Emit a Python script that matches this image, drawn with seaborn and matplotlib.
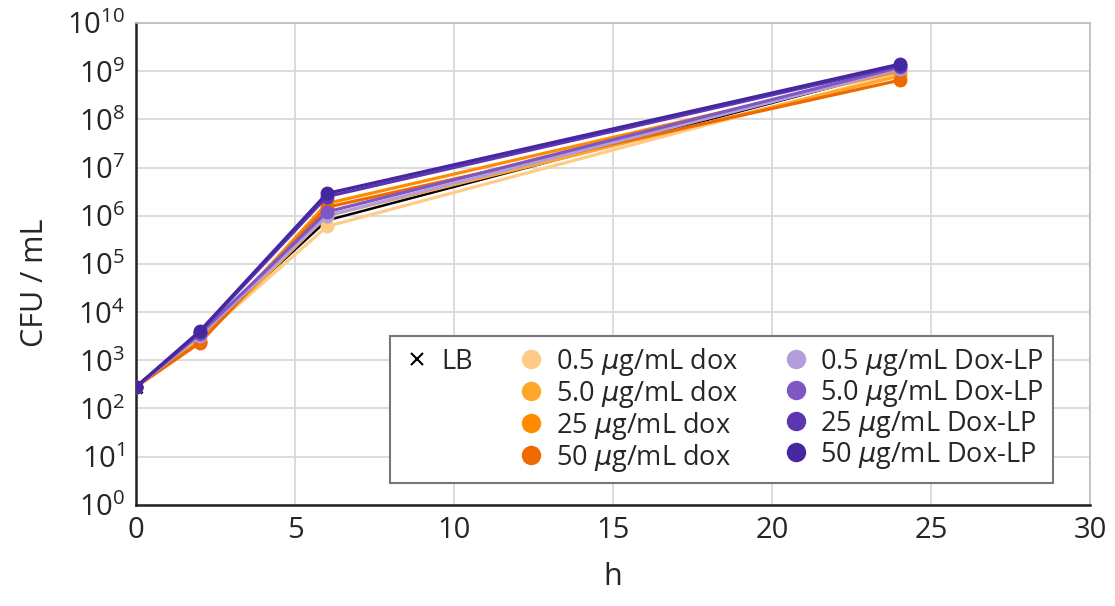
import matplotlib
matplotlib.use("Agg")
import matplotlib.pyplot as plt
from matplotlib.lines import Line2D
import seaborn as sns

# time points (h)
hours = [0, 2, 6, 24]

# CFU / mL readings per condition
lb = [280, 3100, 8.0e5, 1.1e9]
dox_05 = [280, 2800, 6.0e5, 9.0e8]
dox_5 = [280, 2500, 1.0e6, 8.0e8]
dox_25 = [280, 2400, 1.8e6, 1.0e9]
dox_50 = [280, 2300, 1.5e6, 6.5e8]
lp_05 = [280, 3200, 1.0e6, 1.1e9]
lp_5 = [280, 3500, 1.2e6, 1.2e9]
lp_25 = [280, 3800, 2.5e6, 1.3e9]
lp_50 = [280, 4000, 2.9e6, 1.4e9]

dox_labels = ["0.5 $\\mu$g/mL dox", "5.0 $\\mu$g/mL dox",
              "25 $\\mu$g/mL dox", "50 $\\mu$g/mL dox"]
lp_labels = ["0.5 $\\mu$g/mL Dox-LP", "5.0 $\\mu$g/mL Dox-LP",
             "25 $\\mu$g/mL Dox-LP", "50 $\\mu$g/mL Dox-LP"]
dox_colors = ["#FFCC88", "#FFA62B", "#FF8C00", "#EE6A00"]
lp_colors = ["#B39DDB", "#7E57C2", "#5E35B1", "#4527A0"]

sns.set_style("white")
plt.rcParams["font.family"] = ["Open Sans", "DejaVu Sans"]
plt.rcParams["mathtext.fontset"] = "custom"
plt.rcParams["mathtext.rm"] = "Open Sans"
plt.rcParams["mathtext.it"] = "DejaVu Sans:italic"

fig = plt.figure(figsize=(11.15, 6.06), dpi=100)
ax = fig.add_axes([0.122, 0.167, 0.856, 0.795])

# LB underneath the coloured markers
ax.plot(hours, lb, color="black", lw=1.8, marker="x", markersize=9,
        markeredgewidth=2, zorder=1)

handles = []
for vals, lab, col in zip([dox_05, dox_5, dox_25, dox_50], dox_labels, dox_colors):
    sns.lineplot(x=hours, y=vals, ax=ax, color=col, lw=2.3, marker="o",
                 markersize=10, markeredgewidth=0, zorder=2)
    handles.append(Line2D([], [], ls="none", marker="o", ms=14, mew=0,
                          color=col, label=lab))
lp_handles = []
for vals, lab, col in zip([lp_05, lp_5, lp_25, lp_50], lp_labels, lp_colors):
    sns.lineplot(x=hours, y=vals, ax=ax, color=col, lw=2.3, marker="o",
                 markersize=10, markeredgewidth=0, zorder=3)
    lp_handles.append(Line2D([], [], ls="none", marker="o", ms=14, mew=0,
                             color=col, label=lab))

ax.set_yscale("log")
ax.set_ylim(1, 1e10)
ax.set_xlim(0, 30)
ax.set_xticks(range(0, 31, 5))
ax.set_yticks([10 ** n for n in range(11)])
ax.set_yticklabels([f"$10^{{{n}}}$" for n in range(11)])
ax.minorticks_off()
ax.tick_params(labelsize=21, length=0, pad=8)
ax.grid(True, color="#D9D9D9", lw=1.3)
ax.set_axisbelow(True)

for s in ["left", "bottom"]:
    ax.spines[s].set_color("#222222")
    ax.spines[s].set_linewidth(1.8)
for s in ["top", "right"]:
    ax.spines[s].set_color("#BBBBBB")
    ax.spines[s].set_linewidth(1.2)

ax.set_xlabel("h", fontsize=22, labelpad=12)
ax.set_ylabel("CFU / mL", fontsize=22, labelpad=10)
ax.yaxis.set_label_coords(-0.09, 0.46)

blank = Line2D([], [], ls="none", marker="", label=" ")
lb_handle = Line2D([], [], ls="none", marker="x", ms=8, mew=1.5,
                   color="black", label="LB")
leg_handles = [lb_handle, blank, blank, blank] + handles + lp_handles
leg = ax.legend(handles=leg_handles, ncol=3, loc="lower right",
                bbox_to_anchor=(0.975, 0.017), fontsize=19.5, frameon=True,
                fancybox=False, edgecolor="#777777", framealpha=1,
                handlelength=1.3, handletextpad=0.25, columnspacing=1.5,
                labelspacing=0.0, borderpad=0.35)
leg.get_frame().set_linewidth(1.5)

fig.savefig("out.png", dpi=100)
